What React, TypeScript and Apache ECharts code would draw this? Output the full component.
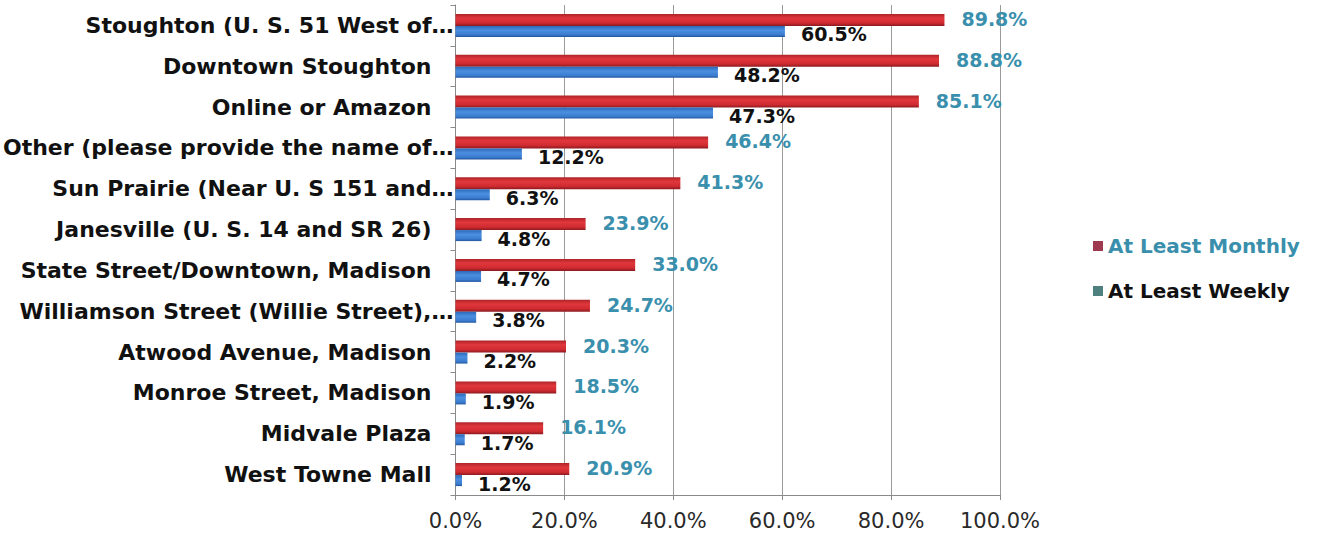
import React, { useEffect, useRef } from "react";
import * as echarts from "echarts";

const categories = [
  "Stoughton (U. S. 51 West of…",
  "Downtown Stoughton",
  "Online or Amazon",
  "Other (please provide the name of…",
  "Sun Prairie (Near U. S 151 and…",
  "Janesville (U. S. 14 and SR 26)",
  "State Street/Downtown, Madison",
  "Williamson Street (Willie Street),…",
  "Atwood Avenue, Madison",
  "Monroe Street, Madison",
  "Midvale Plaza",
  "West Towne Mall",
];
const monthly = [89.8, 88.8, 85.1, 46.4, 41.3, 23.9, 33.0, 24.7, 20.3, 18.5, 16.1, 20.9];
const weekly = [60.5, 48.2, 47.3, 12.2, 6.3, 4.8, 4.7, 3.8, 2.2, 1.9, 1.7, 1.2];
const seriesNames = ["At Least Monthly", "At Least Weekly"];
const xTicks = [0, 20, 40, 60, 80, 100];

const FONT = "DejaVu Sans";

export default function App() {
  const ref = useRef<HTMLDivElement>(null);
  useEffect(() => {
    if (!ref.current) return;
    const chart = echarts.init(ref.current, null, { renderer: "svg" });
    const redGrad = new echarts.graphic.LinearGradient(0, 0, 0, 1, [
      { offset: 0, color: "#ae2428" },
      { offset: 0.35, color: "#e0373c" },
      { offset: 0.75, color: "#cf2b31" },
      { offset: 1, color: "#8c1a1f" },
    ]);
    const blueGrad = new echarts.graphic.LinearGradient(0, 0, 0, 1, [
      { offset: 0, color: "#2c68b8" },
      { offset: 0.4, color: "#4b8fe0" },
      { offset: 0.8, color: "#3a7ccf" },
      { offset: 1, color: "#23569e" },
    ]);
    chart.setOption({
      animation: false,
      backgroundColor: "#ffffff",
      grid: { left: 454, right: 327, top: 5, bottom: 43, containLabel: false },
      legend: {
        orient: "vertical",
        left: 1088,
        top: 231,
        itemGap: 25,
        itemWidth: 10,
        itemHeight: 10,
        icon: "rect",
        textStyle: { fontFamily: FONT, fontWeight: "bold", fontSize: 20 },
        data: [
          { name: seriesNames[0], itemStyle: { color: "#9e3950" }, textStyle: { color: "#3a8fad" } },
          { name: seriesNames[1], itemStyle: { color: "#4f8080" }, textStyle: { color: "#111111" } },
        ],
      },
      xAxis: {
        type: "value",
        min: 0,
        max: 100,
        interval: 20,
        axisLine: { show: true, lineStyle: { color: "#8a8a8a", width: 1 } },
        axisTick: { show: true, length: 5, lineStyle: { color: "#8a8a8a" } },
        splitLine: { show: true, lineStyle: { color: "#9a9a9a", width: 1 } },
        axisLabel: {
          margin: 15,
          fontFamily: FONT,
          fontSize: 21,
          color: "#2a2a2a",
          formatter: (v: number) => (xTicks.includes(v) ? v.toFixed(1) + "%" : ""),
        },
      },
      yAxis: {
        type: "category",
        data: categories,
        inverse: true,
        axisLine: { show: true, lineStyle: { color: "#8a8a8a", width: 1 } },
        axisTick: { show: true, length: 5, lineStyle: { color: "#8a8a8a" } },
        axisLabel: {
          margin: 2,
          fontFamily: FONT,
          fontWeight: "bold",
          fontSize: 22,
          color: "#111111",
          formatter: (v: string) => (v.endsWith("…") ? "{t|" + v + "}" : "{n|" + v + "}"),
          rich: {
            t: { fontFamily: FONT, fontWeight: "bold", fontSize: 22, color: "#111111" },
            n: { fontFamily: FONT, fontWeight: "bold", fontSize: 22, color: "#111111", padding: [0, 22, 0, 0] },
          },
        },
      },
      series: [
        {
          name: seriesNames[0],
          type: "bar",
          data: monthly,
          barWidth: 12,
          barGap: "0%",
          itemStyle: { color: redGrad },
          label: {
            show: true,
            position: "right",
            distance: 17,
            offset: [0, -1],
            fontFamily: FONT,
            fontWeight: "bold",
            fontSize: 19,
            color: "#3a8fad",
            formatter: (p: any) => p.value.toFixed(1) + "%",
          },
        },
        {
          name: seriesNames[1],
          type: "bar",
          data: weekly,
          barWidth: 11,
          barGap: "0%",
          itemStyle: { color: blueGrad },
          label: {
            show: true,
            position: "right",
            distance: 16,
            offset: [0, 3],
            fontFamily: FONT,
            fontWeight: "bold",
            fontSize: 19,
            color: "#111111",
            formatter: (p: any) => p.value.toFixed(1) + "%",
          },
        },
      ],
    });
    return () => chart.dispose();
  }, []);
  return (
    <div
      ref={ref}
      style={{ position: "fixed", left: 0, top: 0, width: 1327, height: 538, background: "#fff" }}
    />
  );
}
